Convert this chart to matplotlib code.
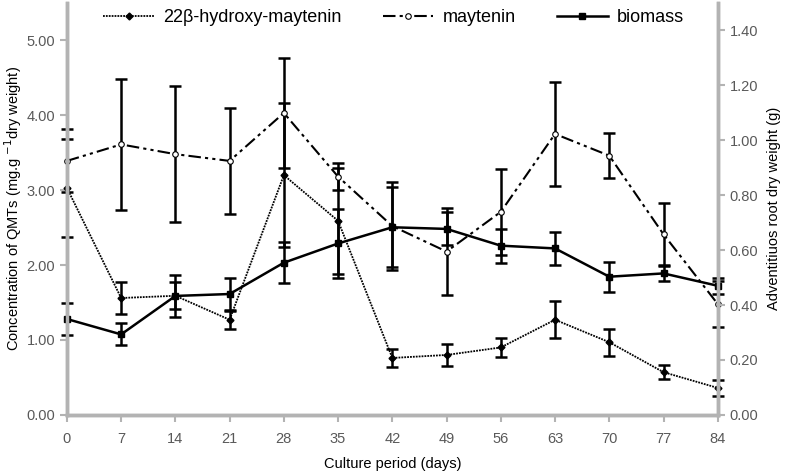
import numpy as np
import matplotlib.pyplot as plt

plt.rcParams['font.family'] = ['Liberation Sans', 'DejaVu Sans']

days = [0, 7, 14, 21, 28, 35, 42, 49, 56, 63, 70, 77, 84]

hydroxy = [3.03, 1.56, 1.59, 1.27, 3.20, 2.59, 0.76, 0.80, 0.90, 1.27, 0.97, 0.57, 0.36]
hydroxy_err = [0.65, 0.22, 0.18, 0.12, 0.96, 0.71, 0.12, 0.145, 0.13, 0.25, 0.18, 0.09, 0.11]

maytenin = [3.39, 3.61, 3.48, 3.39, 4.03, 3.18, 2.52, 2.18, 2.71, 3.75, 3.46, 2.41, 1.48]
maytenin_err = [0.42, 0.88, 0.91, 0.71, 0.73, 0.18, 0.59, 0.58, 0.57, 0.69, 0.30, 0.42, 0.31]

biomass = [0.349, 0.293, 0.433, 0.440, 0.554, 0.624, 0.683, 0.677, 0.616, 0.606, 0.503, 0.515, 0.470]
biomass_err = [0.058, 0.040, 0.077, 0.058, 0.075, 0.124, 0.145, 0.060, 0.062, 0.059, 0.054, 0.029, 0.030]

left_ticks = [0, 1, 2, 3, 4, 5]
right_ticks = [0, 0.2, 0.4, 0.6, 0.8, 1.0, 1.2, 1.4]

gray = '#b3b3b3'
tickc = '#595959'

fig = plt.figure(figsize=(7.87, 4.72), dpi=100)
ax = fig.add_axes([0.085, 0.121, 0.827, 0.873])
ax2 = ax.twinx()

eb = dict(ecolor='black', elinewidth=1.8, capsize=4, capthick=1.8)

ax.errorbar(days, maytenin, yerr=maytenin_err, fmt='none', **eb, clip_on=False)
ax.errorbar(days, hydroxy, yerr=hydroxy_err, fmt='none', **eb, clip_on=False)
l2, = ax.plot(days, maytenin, linestyle=(0, (6, 2, 1.5, 2, 1.5, 2)), color='black', lw=1.5,
              marker='o', ms=4, mfc='white', mec='black', mew=0.8, clip_on=False,
              label='maytenin')
l1, = ax.plot(days, hydroxy, linestyle=(0, (1, 0.6)), color='black', lw=1.3,
              marker='D', ms=3.5, mfc='black', mec='black', clip_on=False,
              label='22β-hydroxy-maytenin')

ax2.errorbar(days, biomass, yerr=biomass_err, fmt='none', **eb, clip_on=False)
l3, = ax2.plot(days, biomass, linestyle='-', color='black', lw=1.8,
               marker='s', ms=4.5, mfc='black', clip_on=False, label='biomass')

ax.set_xlim(0, 84)
ax.set_ylim(0, 5.5)
ax2.set_ylim(0, 1.5)
ax.set_xticks(days)
ax.set_yticks(left_ticks)
ax.set_yticklabels(['%.2f' % v for v in left_ticks])
ax2.set_yticks(right_ticks)
ax2.set_yticklabels(['%.2f' % v for v in right_ticks])

for a in (ax, ax2):
    for s in a.spines.values():
        s.set_color(gray)
        s.set_linewidth(2.5)
    a.spines['top'].set_visible(False)
    a.tick_params(colors=gray, labelcolor=tickc, labelsize=10.5, width=1.5, length=5)
ax.tick_params(axis='x', pad=7)

ax.set_xlabel('Culture period (days)', fontsize=10.5, labelpad=8)
ax.set_ylabel('Concentration of QMTs (mg.g $^{-1}$dry weight)', fontsize=10.5, labelpad=2)
ax2.set_ylabel('Adventitiuos root dry weight (g)', fontsize=10.5, labelpad=6)

fig.legend(handles=[l1, l2, l3], loc='upper center', bbox_to_anchor=(0.5, 1.015),
           ncol=3, frameon=False, fontsize=13, handlelength=2.8, columnspacing=2.3,
           handletextpad=0.5)

fig.savefig('out.png', dpi=100)
